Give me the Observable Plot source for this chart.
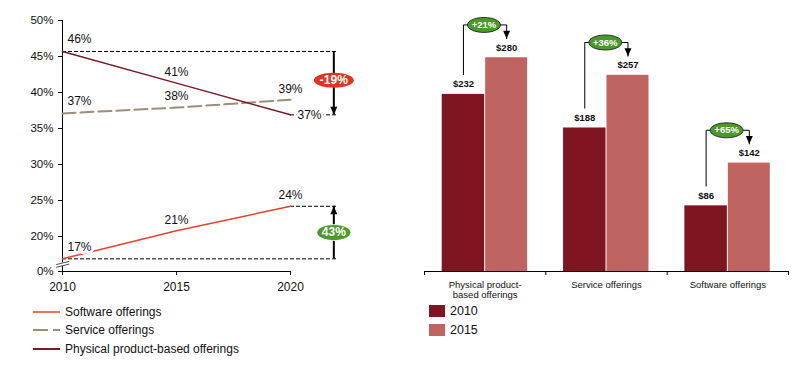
<!DOCTYPE html>
<html><head><meta charset="utf-8">
<script src="https://cdn.jsdelivr.net/npm/d3@7"></script>
<script src="https://cdn.jsdelivr.net/npm/@observablehq/plot@0.6"></script>
<style>
body{margin:0;background:#fff;font-family:"Liberation Sans",Arial,sans-serif;color:#111;}
#wrap{position:relative;width:797px;height:368px;overflow:hidden;}
#left{position:absolute;left:0;top:0;}
#right{position:absolute;left:400px;top:0;}
.row{position:absolute;display:flex;align-items:center;height:18px;white-space:nowrap;}
</style></head><body>
<div id="wrap"><div id="left"></div><div id="right"></div><div id="legL"></div><div id="legR"></div></div>
<script>
// ---- data: share of revenue by offering type ----
const years = [2010, 2015, 2020];
const seriesNames = ["Software offerings", "Service offerings", "Physical product-based offerings"];
const softwareShare = [16.9, 20.8, 24.2];
const serviceShare = [37.1, 37.9, 39.0];
const physicalShare = [45.7, 41.3, 36.9];
const yTicks = [20, 25, 30, 35, 40, 45, 50];
const yFloor = 15.14;           // broken axis floor, labelled "0%"
const changeLabels = ["-19%", "43%"];

// ---- data: revenue by offering type ----
const categories = ["Physical product-based offerings", "Service offerings", "Software offerings"];
const barYears = ["2010", "2015"];
const revenue2010 = [232, 188, 86];
const revenue2015 = [280, 257, 142];
const growthLabels = ["+21%", "+36%", "+65%"];

// ---- styles ----
const FONT = '"Liberation Sans", Arial, sans-serif';
const cSoft = "#e8402c", cServ = "#9b9075", cPhys = "#7b1a24";
const c2010 = "#7f1520", c2015 = "#c06462";

// custom symbols
const ellipse = (rx, ry) => ({draw(ctx) {
  const k = 0.5523;
  ctx.moveTo(rx, 0);
  ctx.bezierCurveTo(rx, ry * k, rx * k, ry, 0, ry);
  ctx.bezierCurveTo(-rx * k, ry, -rx, ry * k, -rx, 0);
  ctx.bezierCurveTo(-rx, -ry * k, -rx * k, -ry, 0, -ry);
  ctx.bezierCurveTo(rx * k, -ry, rx, -ry * k, rx, 0);
  ctx.closePath();
}});
const triDown = (w, h) => ({draw(ctx) { ctx.moveTo(-w / 2, -h); ctx.lineTo(w / 2, -h); ctx.lineTo(0, 0); ctx.closePath(); }});
const triUp = (w, h) => ({draw(ctx) { ctx.moveTo(-w / 2, h); ctx.lineTo(w / 2, h); ctx.lineTo(0, 0); ctx.closePath(); }});

// ---- left chart ----
const shares = [softwareShare, serviceShare, physicalShare];
const lineData = [];
seriesNames.forEach((s, i) => years.forEach((y, j) => lineData.push({series: s, year: y, value: shares[i][j]})));
const bySeries = s => lineData.filter(d => d.series === s);
const byYear = y => lineData.filter(d => d.year === y);

const annotX = 2021.9, refEnd = 2022.05;
const p0 = physicalShare[0], p1 = physicalShare[2], s0 = softwareShare[0], s1 = softwareShare[2];
const pct = d => Math.round(d.value) + "%";

const left = Plot.plot({
  width: 400, height: 300, marginLeft: 62, marginRight: 110, marginTop: 20, marginBottom: 29,
  style: {fontFamily: FONT, fontSize: "12px", color: "#111", background: "transparent", overflow: "visible"},
  x: {domain: [2010, 2020], label: null},
  y: {domain: [yFloor, 50], label: null},
  marks: [
    Plot.ruleY([p0, s0], {x1: 2010, x2: refEnd, stroke: "#000", strokeWidth: 1, strokeDasharray: "4,2"}),
    Plot.ruleY([p1, s1], {x1: 2020, x2: refEnd, stroke: "#000", strokeWidth: 1, strokeDasharray: "4,2"}),
    Plot.axisY({ticks: [yFloor, ...yTicks], tickFormat: d => d === yFloor ? "0%" : d + "%", tickSize: 4, tickPadding: 5, fontSize: 11.5, label: null}),
    Plot.axisX({ticks: years, tickFormat: d => String(d), tickSize: 4, tickPadding: 7, fontSize: 12, label: null}),
    Plot.ruleX([2010], {y1: yFloor, y2: 50, stroke: "#000", strokeWidth: 1}),
    Plot.ruleY([yFloor], {x1: 2010, x2: 2020, stroke: "#000", strokeWidth: 1}),
    // axis break
    Plot.link([0], {x1: 2009.72, x2: 2010.3, y1: 16.0, y2: 16.35, stroke: "#fff", strokeWidth: 3}),
    Plot.link([16.1, 15.72], {x1: 2009.72, x2: 2010.3, y1: d => d, y2: d => d + 0.45, stroke: "#555", strokeWidth: 1}),
    // series
    Plot.line(bySeries(seriesNames[1]), {x: "year", y: "value", stroke: cServ, strokeWidth: 2, strokeDasharray: "13,5"}),
    Plot.line(bySeries(seriesNames[2]), {x: "year", y: "value", stroke: cPhys, strokeWidth: 1.5}),
    Plot.line(bySeries(seriesNames[0]), {x: "year", y: "value", stroke: cSoft, strokeWidth: 1.5}),
    // value labels
    Plot.text(byYear(2010), {x: "year", y: "value", text: pct, dx: 17, dy: -12, fill: "#111", stroke: "#fff", strokeWidth: 6, fontSize: 12}),
    Plot.text(byYear(2015), {x: "year", y: "value", text: pct, dy: -11, fill: "#111", fontSize: 12}),
    Plot.text(byYear(2020).filter(d => d.series !== seriesNames[2]), {x: "year", y: "value", text: pct, dy: -11, fill: "#111", fontSize: 12}),
    Plot.text(byYear(2020).filter(d => d.series === seriesNames[2]), {x: "year", y: "value", text: pct, dx: 19, fill: "#111", stroke: "#fff", strokeWidth: 5, fontSize: 12}),
    // change arrows
    Plot.ruleX([annotX], {y1: p0, y2: p1, stroke: "#000", strokeWidth: 2}),
    Plot.dot([p1], {x: annotX, y: d => d, r: 4, symbol: triDown(7, 8), fill: "#000", stroke: "none"}),
    Plot.ruleX([annotX], {y1: s0, y2: s1, stroke: "#000", strokeWidth: 2}),
    Plot.dot([s1], {x: annotX, y: d => d, r: 4, symbol: triUp(7, 8), fill: "#000", stroke: "none"}),
    Plot.dot([(p0 + p1) / 2], {x: annotX, y: d => d, dy: -3, r: 5, symbol: ellipse(20, 7.5), fill: "#e03424", stroke: "none"}),
    Plot.dot([(s0 + s1) / 2], {x: annotX, y: d => d, r: 5, symbol: ellipse(17, 8), fill: "#4d9a2a", stroke: "#fff", strokeWidth: 0.8}),
    Plot.text([(p0 + p1) / 2], {x: annotX, y: d => d, dy: -3, text: [changeLabels[0]], fill: "#fff", fontWeight: "bold", fontSize: 12}),
    Plot.text([(s0 + s1) / 2], {x: annotX, y: d => d, text: [changeLabels[1]], fill: "#fff", fontWeight: "bold", fontSize: 12})
  ]
});
document.getElementById("left").appendChild(left);

// ---- right chart ----
const barData = [];
categories.forEach((c, i) => {
  barData.push({cat: c, i, year: barYears[0], value: revenue2010[i]});
  barData.push({cat: c, i, year: barYears[1], value: revenue2015[i]});
});
const slot = {"2010": [0.146, 0.496], "2015": [0.504, 0.85]};
const mid = y => (slot[y][0] + slot[y][1]) / 2;
const b10 = barData.filter(d => d.year === "2010"), b15 = barData.filter(d => d.year === "2015");

const conn = [];
categories.forEach((c, i) => {
  const level = revenue2015[i] + 43;
  conn.push({cat: c, x: i + mid("2010"), y: revenue2010[i] + 26});
  conn.push({cat: c, x: i + mid("2010"), y: level});
  conn.push({cat: c, x: i + mid("2015"), y: level});
  conn.push({cat: c, x: i + mid("2015"), y: revenue2015[i] + 25});
});
const badges = categories.map((c, i) => ({x: i + 0.49, y: revenue2015[i] + 43, label: growthLabels[i]}));
const tips = categories.map((c, i) => ({x: i + mid("2015"), y: revenue2015[i] + 25}));

const right = Plot.plot({
  width: 397, height: 300, marginLeft: 24, marginRight: 9, marginTop: 0, marginBottom: 29,
  style: {fontFamily: FONT, fontSize: "10px", color: "#111", background: "transparent", overflow: "visible"},
  x: {domain: [0, 3], label: null},
  y: {domain: [0, 355], label: null, axis: null},
  marks: [
    Plot.rect(b10, {x1: d => d.i + slot["2010"][0], x2: d => d.i + slot["2010"][1], y1: 0, y2: "value", fill: c2010}),
    Plot.rect(b15, {x1: d => d.i + slot["2015"][0], x2: d => d.i + slot["2015"][1], y1: 0, y2: "value", fill: c2015}),
    Plot.ruleY([0], {x1: 0, x2: 3, stroke: "#000", strokeWidth: 1}),
    Plot.ruleX([0, 1, 2, 3], {y1: 0, y2: -5.2, stroke: "#000", strokeWidth: 1}),
    Plot.axisX({ticks: [0.5, 1.5, 2.5], tickFormat: d => categories[Math.floor(d)].replace("product-", "product-\n"), tickSize: 0, tickPadding: 10, fontSize: 9.5, label: null}),
    Plot.text(barData, {x: d => d.i + mid(d.year), y: "value", text: d => "$" + d.value, dy: -10, fontWeight: "bold", fontSize: 9.5, fill: "#111"}),
    Plot.line(conn, {x: "x", y: "y", z: "cat", stroke: "#000", strokeWidth: 1}),
    Plot.dot(tips, {x: "x", y: "y", r: 4, symbol: triDown(7, 8), fill: "#000", stroke: "none"}),
    Plot.dot(badges, {x: "x", y: "y", r: 5, symbol: ellipse(16.5, 7.5), fill: "#4a9a2a", stroke: "#111", strokeWidth: 0.8}),
    Plot.text(badges, {x: "x", y: "y", text: "label", fill: "#fff", fontWeight: "bold", fontSize: 9.5})
  ]
});
document.getElementById("right").appendChild(right);

// ---- legends ----
const legL = document.getElementById("legL");
const legendStyle = [
  {color: cSoft, dash: "", w: 1.5},
  {color: cServ, dash: "15,5", w: 2},
  {color: cPhys, dash: "", w: 2}
];
seriesNames.forEach((s, i) => {
  const row = document.createElement("div");
  row.className = "row";
  row.style.left = "33px";
  row.style.top = (302.7 + i * 18.7) + "px";
  row.style.fontSize = "12px";
  const st = legendStyle[i];
  row.innerHTML = `<svg width="27" height="4" style="margin-right:5px"><line x1="0" y1="2" x2="27" y2="2" stroke="${st.color}" stroke-width="${st.w}" stroke-dasharray="${st.dash}"/></svg><span>${s}</span>`;
  legL.appendChild(row);
});
const legR = document.getElementById("legR");
barYears.forEach((y, i) => {
  const row = document.createElement("div");
  row.className = "row";
  row.style.left = "429px";
  row.style.top = (302 + i * 18.5) + "px";
  row.style.fontSize = "12.5px";
  row.innerHTML = `<span style="display:inline-block;width:16px;height:12px;background:${i === 0 ? c2010 : c2015};margin-right:5px"></span><span>${y}</span>`;
  legR.appendChild(row);
});
</script>
</body></html>
